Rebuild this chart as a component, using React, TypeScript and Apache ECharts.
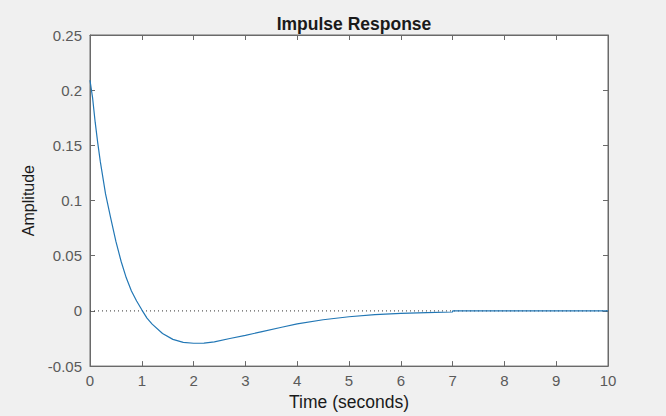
import React, { useEffect, useRef } from "react";
import * as echarts from "echarts";

const titleText = "Impulse Response";
const xName = "Time (seconds)";
const yName = "Amplitude";

// time (s) and amplitude
const times = [0, 0.05, 0.1, 0.15, 0.2, 0.3, 0.4, 0.5, 0.6, 0.7, 0.8, 0.9, 1.0, 1.1, 1.2, 1.4, 1.6, 1.8, 2.0, 2.2, 2.4, 2.7, 3.0, 3.3, 3.7, 4.0, 4.5, 5.0, 5.5, 6.0, 6.5, 7.0, 7.0, 10];
const amplitude = [0.209, 0.193, 0.171, 0.152, 0.135, 0.106, 0.084, 0.063, 0.045, 0.03, 0.018, 0.009, 0.001, -0.0065, -0.012, -0.0205, -0.0258, -0.0285, -0.0293, -0.0292, -0.028, -0.025, -0.0222, -0.019, -0.0148, -0.0118, -0.0080, -0.0053, -0.0034, -0.0022, -0.0015, -0.001, 0, 0];

const steadyTimes = [0, 10];
const steadyValues = [0, 0];

const xTicks = { min: 0, max: 10, interval: 1 };
const yTicks = { min: -0.05, max: 0.25, interval: 0.05 };

export default function App() {
  const ref = useRef<HTMLDivElement>(null);
  useEffect(() => {
    if (!ref.current) return;
    const chart = echarts.init(ref.current, undefined, { renderer: "svg" });
    const font = "'Liberation Sans', Arial, Helvetica, sans-serif";
    const axisColor = "#6a6a6a";
    const labelColor = "#5a5a5a";
    const fmt = (v: number) => String(Math.round(v * 100) / 100);
    const baseX = {
      type: "value",
      min: xTicks.min,
      max: xTicks.max,
      interval: xTicks.interval,
      splitLine: { show: false },
      axisLine: { show: true, onZero: false, lineStyle: { color: axisColor, width: 1 } },
      axisTick: { show: true, inside: true, length: 5, lineStyle: { color: axisColor } },
    };
    const baseY = {
      type: "value",
      min: yTicks.min,
      max: yTicks.max,
      interval: yTicks.interval,
      splitLine: { show: false },
      axisLine: { show: true, onZero: false, lineStyle: { color: axisColor, width: 1 } },
      axisTick: { show: true, inside: true, length: 5, lineStyle: { color: axisColor } },
    };
    chart.setOption({
      animation: false,
      backgroundColor: "#f0f0f0",
      textStyle: { fontFamily: font },
      title: {
        text: titleText,
        left: 349,
        top: 10,
        textAlign: "center",
        textStyle: { fontFamily: font, fontSize: 17.5, fontWeight: "bold", color: "#1a1a1a" },
      },
      grid: {
        left: 90,
        right: 58,
        top: 35,
        bottom: 47,
        show: true,
        backgroundColor: "#ffffff",
        borderColor: axisColor,
        borderWidth: 1,
      },
      xAxis: [
        {
          ...baseX,
          position: "bottom",
          name: xName,
          nameLocation: "middle",
          nameGap: 23,
          nameTextStyle: { fontFamily: font, fontSize: 17.5, color: "#1a1a1a" },
          axisLabel: { show: true, color: labelColor, fontSize: 15, fontFamily: font, margin: 7 },
        },
        { ...baseX, position: "top", axisLabel: { show: false } },
      ],
      yAxis: [
        {
          ...baseY,
          position: "left",
          name: yName,
          nameLocation: "middle",
          nameGap: 52,
          nameTextStyle: { fontFamily: font, fontSize: 16, color: "#1a1a1a" },
          axisLabel: { show: true, color: labelColor, fontSize: 15, fontFamily: font, margin: 8, formatter: fmt },
        },
        { ...baseY, position: "right", axisLabel: { show: false } },
      ],
      series: [
        {
          type: "line",
          data: steadyTimes.map((t, i) => [t, steadyValues[i]]),
          showSymbol: false,
          lineStyle: { color: "#333333", width: 1, type: [1, 3] },
          z: 2,
        },
        {
          type: "line",
          data: times.map((t, i) => [t, amplitude[i]]),
          showSymbol: false,
          lineStyle: { color: "#2277b5", width: 1.2 },
          z: 3,
        },
      ],
    });
    return () => chart.dispose();
  }, []);
  return (
    <div
      ref={ref}
      style={{ position: "fixed", left: 0, top: 0, width: 666, height: 416 }}
    />
  );
}
